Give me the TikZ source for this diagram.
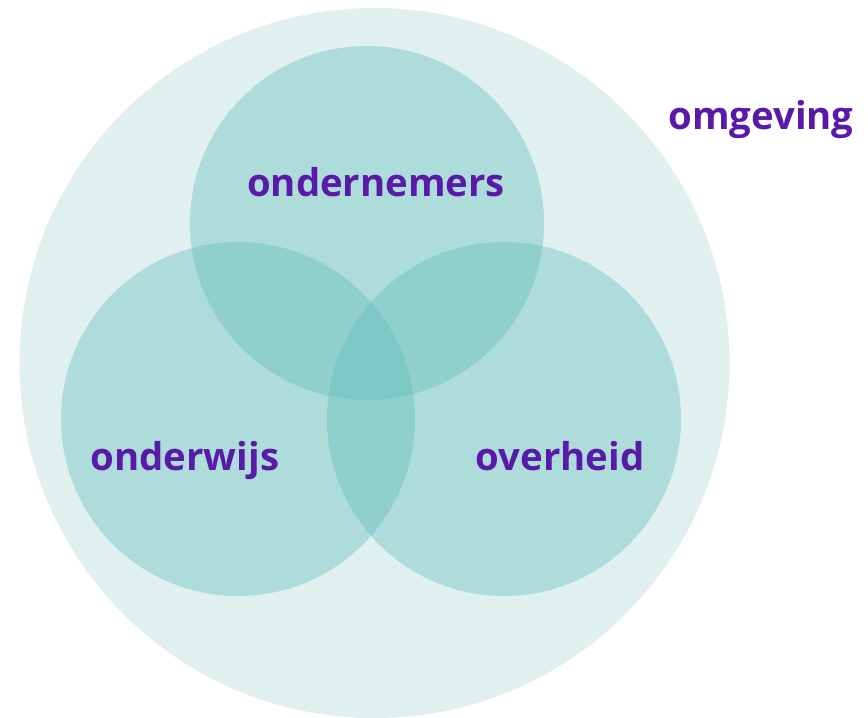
\documentclass[tikz,border=0pt]{standalone}
\usepackage{fontspec}
\setmainfont{Open Sans}
\definecolor{outerteal}{RGB}{223,240,238}
\definecolor{sectorteal}{RGB}{98,190,188}
\definecolor{labelpurple}{RGB}{90,26,168}

\begin{document}
\begin{tikzpicture}[auto,
    sector/.style ={circle, minimum size=7.08cm, inner sep=0pt, fill=sectorteal, fill opacity=0.4},
    sectorlabel/.style ={anchor=base, text=labelpurple, font=\fontsize{21.8}{26}\selectfont\bfseries}]
   \useasboundingbox (0,0) rectangle (17.36,-14.34);
   \fill[outerteal] (7.49,-7.26) circle (7.1);
   \node[sector] (top)   at (7.34,-4.46)  {};
   \node[sector] (left)  at (4.76,-8.38)  {};
   \node[sector] (right) at (10.08,-8.38) {};

   \node[sectorlabel] (ondernemers) at (7.52,-3.92)  {ondernemers};
   \node[sectorlabel] (onderwijs)   at (3.7,-9.4)    {onderwijs};
   \node[sectorlabel] (overheid)    at (11.2,-9.4)   {overheid};
   \node[sectorlabel] (omgeving)    at (15.22,-2.58) {omgeving};
 \end{tikzpicture}
\end{document}
